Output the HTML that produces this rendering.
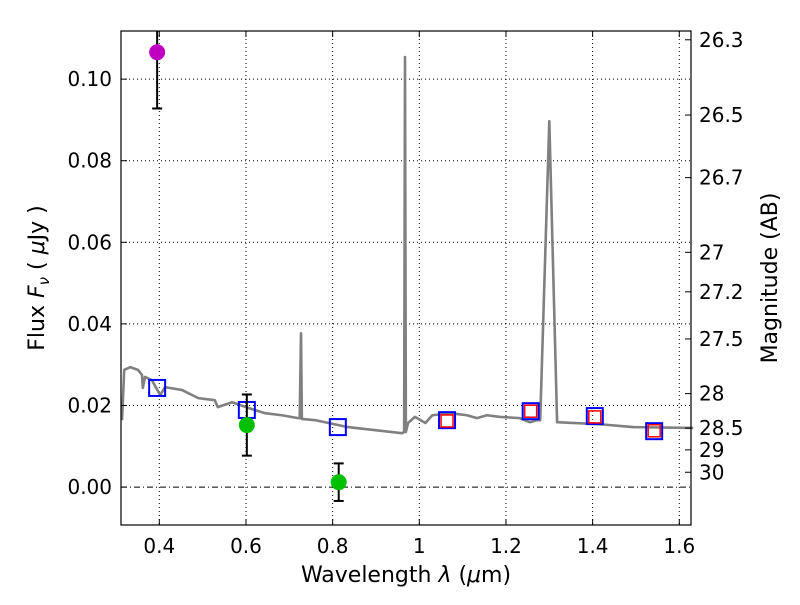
<!DOCTYPE html>
<html><head><meta charset="utf-8"><style>
body{margin:0;background:#fff;}
svg text{font-family:"DejaVu Sans","Liberation Sans",sans-serif;}
</style></head><body>
<svg id="chart" width="800" height="600" xmlns="http://www.w3.org/2000/svg">
<rect width="800" height="600" fill="#fff"/>
<g id="grid"></g>
<g id="spec"></g>
<g id="marks"></g>
<rect x="121" y="31" width="570" height="494" fill="none" stroke="#000" stroke-width="1.2"/>
<g id="axes"></g>
<text x="406" y="582" font-size="22" text-anchor="middle">Wavelength  <tspan font-style="italic">λ</tspan> (<tspan font-style="italic">μ</tspan>m)</text>
<text transform="translate(44,278) rotate(-90)" font-size="22" text-anchor="middle">Flux  <tspan font-style="italic">F</tspan><tspan font-style="italic" font-size="15" dy="5">ν</tspan><tspan dy="-5">  ( </tspan><tspan font-style="italic">μ</tspan>Jy )</text>
<text transform="translate(777,278) rotate(-90)" font-size="22" text-anchor="middle">Magnitude (AB)</text>
</svg>
<script>
const specWave=[0.314,0.319,0.333,0.351,0.360,0.362,0.367,0.383,0.402,0.413,0.452,0.490,0.528,0.535,0.568,0.605,0.644,0.683,0.720,0.724,0.727,0.729,0.760,0.835,0.960,0.965,0.967,0.969,0.974,0.990,1.014,1.030,1.071,1.110,1.133,1.156,1.187,1.232,1.255,1.272,1.279,1.300,1.318,1.417,1.493,1.632];
const specFlux=[0.0164,0.0287,0.0294,0.0287,0.0275,0.0243,0.0270,0.0262,0.0225,0.0245,0.0238,0.0218,0.0213,0.0196,0.0208,0.0194,0.0181,0.0176,0.0169,0.0169,0.0377,0.0167,0.0164,0.0147,0.0132,0.0135,0.1054,0.0135,0.0157,0.0172,0.0157,0.0176,0.0181,0.0176,0.0169,0.0176,0.0172,0.0169,0.0159,0.0164,0.0164,0.0897,0.0159,0.0154,0.0147,0.0145];
const blueWave=[0.395,0.602,0.812,1.064,1.257,1.405,1.542];
const blueFlux=[0.0243,0.0189,0.0147,0.0164,0.0186,0.0174,0.0137];
const redWave=[1.064,1.257,1.405,1.542];
const redFlux=[0.0162,0.0186,0.0172,0.0138];
const obsWave=[0.395,0.602,0.814];
const obsFlux=[0.1066,0.0152,0.0012];
const obsErr=[0.0138,0.0075,0.0046];
const obsColor=['#bf00bf','#00c000','#00c000'];
const xTicks=[0.4,0.6,0.8,1.0,1.2,1.4,1.6];
const xTickLabels=['0.4','0.6','0.8','1','1.2','1.4','1.6'];
const yTicks=[0,0.02,0.04,0.06,0.08,0.10];
const yTickLabels=['0.00','0.02','0.04','0.06','0.08','0.10'];
const magTicks=[26.3,26.5,26.7,27,27.2,27.5,28,28.5,29,30];

const X0=121,X1=691,Y0=525,Y1=31,XMIN=0.3116,XMAX=1.627,YMIN=-0.0093,YMAX=0.1118;
const sx=v=>X0+(v-XMIN)/(XMAX-XMIN)*(X1-X0);
const sy=v=>Y0-(v-YMIN)/(YMAX-YMIN)*(Y0-Y1);
const NS='http://www.w3.org/2000/svg';
function mk(tag,attrs,parent){const e=document.createElementNS(NS,tag);for(const k in attrs)e.setAttribute(k,attrs[k]);parent.appendChild(e);return e;}
const grid=document.getElementById('grid'),axes=document.getElementById('axes'),spec=document.getElementById('spec'),marks=document.getElementById('marks');
xTicks.forEach((t,i)=>{const x=sx(t);
 const g=mk('line',{x1:x,x2:x,y1:Y1,y2:Y0,stroke:'#000','stroke-width':1,'stroke-dasharray':'1,3'},grid);
 
 const a=mk('line',{x1:x,x2:x,y1:Y0,y2:Y0-6,stroke:'#000'},axes);
 
 const b=mk('line',{x1:x,x2:x,y1:Y1,y2:Y1+6,stroke:'#000'},axes);
 
 const l=mk('text',{x:x,y:553,'font-size':20,'text-anchor':'middle'},axes);l.textContent=xTickLabels[i];
 });
yTicks.forEach((t,i)=>{const y=sy(t);
 const g=mk('line',{x1:X0,x2:X1,y1:y,y2:y,stroke:'#000','stroke-width':1,'stroke-dasharray':t===0?'6,3,1,3':'1,3'},grid);
 
 const a=mk('line',{x1:X0,x2:X0+6,y1:y,y2:y,stroke:'#000'},axes);
 
 const l=mk('text',{x:112,y:y+7,'font-size':20,'text-anchor':'end'},axes);l.textContent=yTickLabels[i];
 });
magTicks.forEach(m=>{const y=sy(Math.pow(10,(23.9-m)/2.5));
 const a=mk('line',{x1:X1-6,x2:X1,y1:y,y2:y,stroke:'#000'},axes);
 
 const l=mk('text',{x:699,y:y+7,'font-size':20},axes);l.textContent=String(m);
 });
const p=mk('polyline',{points:specWave.map((w,i)=>sx(w)+','+sy(specFlux[i])).join(' '),fill:'none',stroke:'#808080','stroke-width':2.6,'stroke-linejoin':'round'},spec);

blueWave.forEach((w,i)=>{const r=mk('rect',{x:sx(w)-8,y:sy(blueFlux[i])-8,width:16,height:16,fill:'none',stroke:'#0000ff','stroke-width':2},marks);
 });
redWave.forEach((w,i)=>{const r=mk('rect',{x:sx(w)-6,y:sy(redFlux[i])-6,width:12,height:12,fill:'none',stroke:'#ff0000','stroke-width':1.5},marks);
 });
obsWave.forEach((w,i)=>{const x=sx(w),y=sy(obsFlux[i]),yt=Math.max(sy(obsFlux[i]+obsErr[i]),Y1),yb=sy(obsFlux[i]-obsErr[i]);
 const e=mk('line',{x1:x,x2:x,y1:yt,y2:yb,stroke:'#000','stroke-width':2},marks);
 
 [yt,yb].forEach(yy=>{if(yy>Y1+1){const c=mk('line',{x1:x-5,x2:x+5,y1:yy,y2:yy,stroke:'#000','stroke-width':2},marks);
  }});
 const c=mk('circle',{cx:x,cy:y,r:8,fill:obsColor[i]},marks);
 });
</script>
</body></html>
